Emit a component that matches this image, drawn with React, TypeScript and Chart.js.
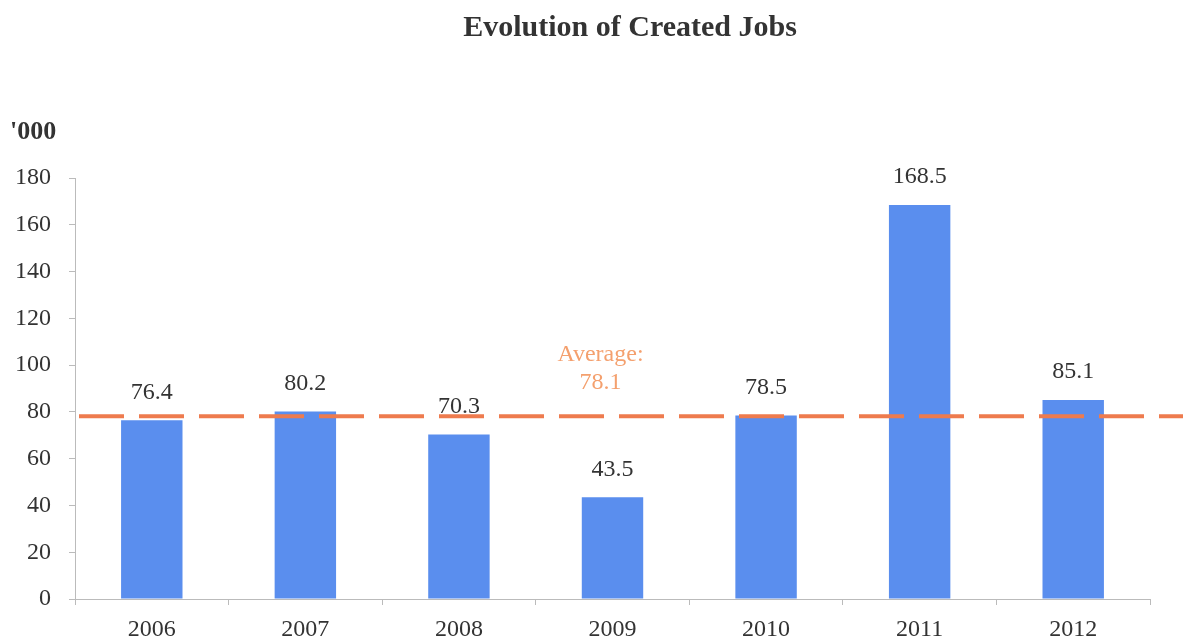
import React, { useEffect, useRef } from "react";
import { Chart, registerables } from "chart.js";

Chart.register(...registerables);

const years = ["2006", "2007", "2008", "2009", "2010", "2011", "2012"];
const jobs = [76.4, 80.2, 70.3, 43.5, 78.5, 168.5, 85.1];
const average = 78.1;
const titleText = "Evolution of Created Jobs";
const unitText = "'000";
const avgLabel = ["Average:", "78.1"];

const FONT = "'Liberation Serif', 'DejaVu Serif', serif";

const overlay = {
  id: "overlay",
  afterDatasetsDraw(chart: any) {
    const { ctx, chartArea, scales } = chart;
    const x = scales.x;
    const y = scales.y;
    ctx.save();
    // average dashed line
    const ay = y.getPixelForValue(average);
    ctx.strokeStyle = "#EE7B4E";
    ctx.lineWidth = 4;
    ctx.setLineDash([45, 15]);
    ctx.beginPath();
    ctx.moveTo(chartArea.left + 4, ay);
    ctx.lineTo(chart.width, ay);
    ctx.stroke();
    ctx.setLineDash([]);
    // data labels
    ctx.fillStyle = "#333333";
    ctx.font = `24px ${FONT}`;
    ctx.textAlign = "center";
    ctx.textBaseline = "middle";
    const meta = chart.getDatasetMeta(0);
    meta.data.forEach((bar: any, i: number) => {
      ctx.fillText(String(jobs[i].toFixed(1)), bar.x, bar.y - 28);
    });
    // average label
    ctx.fillStyle = "#F4A06E";
    const lx = x.getPixelForValue(3) - 12;
    ctx.fillText(avgLabel[0], lx, ay - 62);
    ctx.fillText(avgLabel[1], lx, ay - 34);
    // title
    ctx.fillStyle = "#333333";
    ctx.font = `bold 30px ${FONT}`;
    ctx.fillText(titleText, 630, 28);
    // unit
    ctx.font = `bold 26px ${FONT}`;
    ctx.textAlign = "left";
    ctx.fillText(unitText, 10, 132);
    ctx.restore();
  },
};

export default function App() {
  const ref = useRef<HTMLCanvasElement>(null);
  useEffect(() => {
    if (!ref.current) return;
    const chart = new Chart(ref.current, {
      type: "bar",
      data: {
        labels: years,
        datasets: [
          {
            data: jobs,
            backgroundColor: "#5A8EEE",
            barPercentage: 0.4,
            categoryPercentage: 1,
          },
        ],
      },
      options: {
        responsive: false,
        animation: false,
        layout: { padding: { top: 178, right: 33, left: 0, bottom: 0 } },
        plugins: {
          legend: { display: false },
          tooltip: { enabled: false },
          title: { display: false },
        },
        scales: {
          x: {
            afterFit: (s: any) => {
              s.height = 45;
            },
            grid: {
              drawOnChartArea: false,
              tickLength: 6,
              color: "#BBBBBB",
              offset: true,
            },
            border: { color: "#BBBBBB" },
            ticks: {
              color: "#333333",
              font: { family: FONT, size: 24 },
              padding: 10,
            },
          },
          y: {
            min: 0,
            max: 180,
            afterFit: (s: any) => {
              s.width = 75;
            },
            grid: {
              drawOnChartArea: false,
              tickLength: 6,
              color: "#BBBBBB",
            },
            border: { color: "#BBBBBB" },
            ticks: {
              stepSize: 20,
              color: "#333333",
              font: { family: FONT, size: 24 },
              padding: 18,
            },
          },
        },
      },
      plugins: [overlay],
    });
    return () => chart.destroy();
  }, []);
  return (
    <div style={{ position: "fixed", left: 0, top: 0, width: 1183, height: 644, background: "#fff" }}>
      <canvas ref={ref} width={1183} height={644} />
    </div>
  );
}
